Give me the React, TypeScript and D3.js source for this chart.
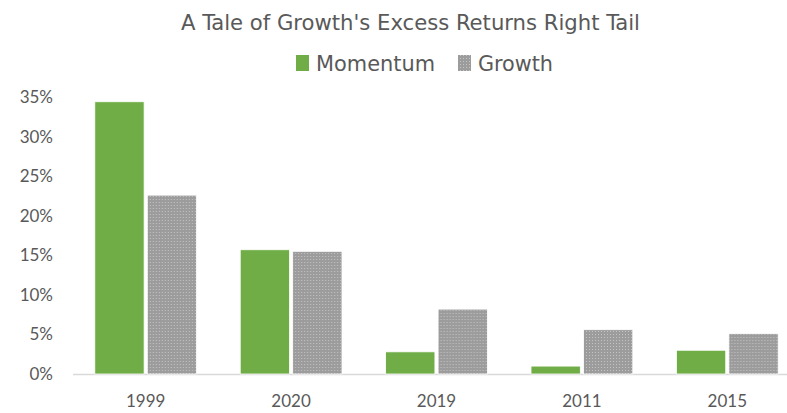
import React from "react";
import * as d3 from "d3";

const categories = ["1999", "2020", "2019", "2011", "2015"];
const seriesNames = ["Momentum", "Growth"];
const momentum = [34.4, 15.7, 2.8, 1.0, 3.0];
const growth = [22.6, 15.5, 8.2, 5.6, 5.1];
const yTicks = [0, 5, 10, 15, 20, 25, 30, 35];
const title = "A Tale of Growth's Excess Returns Right Tail";

const W = 787, H = 413;
const M = { left: 73, right: -13, top: 97, bottom: 39 };

export default function App() {
  const x0 = d3.scaleBand().domain(categories).range([M.left, W - M.right]).paddingInner(0.3).paddingOuter(0.15);
  const x1 = d3.scaleBand().domain(seriesNames).range([0, x0.bandwidth()]).paddingInner(0.06);
  const y = d3.scaleLinear().domain([0, 35]).range([H - M.bottom, M.top]);
  const series = [momentum, growth];
  const fills = ["#70ad47", "url(#dots)"];
  const legendW = [119, 75];
  const font = "'DejaVu Sans Condensed', 'DejaVu Sans', sans-serif";
  const numFont = "Lato, 'Open Sans', sans-serif";
  return (
    <svg width={W} height={H} style={{ position: "absolute", left: 0, top: 0, background: "#fff" }}>
      <defs>
        <pattern id="dots" width="3" height="3" patternUnits="userSpaceOnUse">
          <rect width="3" height="3" fill="#9c9c9c" />
          <rect x="1" y="1" width="1" height="1" fill="#c4c4c4" />
        </pattern>
      </defs>
      <text x={181} y={30} fontFamily={font} fontSize={22} fill="#595959"
        textLength={459} lengthAdjust="spacingAndGlyphs">{title}</text>
      {seriesNames.map((s, i) => {
        const lx = i === 0 ? 296 : 458;
        return (
          <g key={s}>
            <rect x={lx} y={55} width={13} height={16} fill={fills[i]} />
            <text x={lx + 20} y={71} fontFamily={font} fontSize={22} fill="#595959"
              textLength={legendW[i]} lengthAdjust="spacingAndGlyphs">{s}</text>
          </g>
        );
      })}
      {yTicks.map(t => (
        <text key={t} x={53} y={y(t) + 6} textAnchor="end" fontFamily={numFont} fontSize={17}
          fill="#595959">{t}%</text>
      ))}
      <line x1={M.left} x2={W} y1={y(0) + 0.5} y2={y(0) + 0.5} stroke="#d9d9d9" strokeWidth={1.5} />
      {categories.map((c, ci) => (
        <g key={c} transform={`translate(${x0(c)},0)`}>
          {seriesNames.map((s, si) => {
            const v = series[si][ci];
            return (
              <rect key={s} x={x1(s)} y={y(v)} width={x1.bandwidth()} height={y(0) - y(v)}
                fill={fills[si]} stroke="#fff" strokeWidth={0.8} />
            );
          })}
          <text x={x0.bandwidth() / 2} y={407} textAnchor="middle" fontFamily={numFont} fontSize={17}
            fill="#595959">{c}</text>
        </g>
      ))}
    </svg>
  );
}
